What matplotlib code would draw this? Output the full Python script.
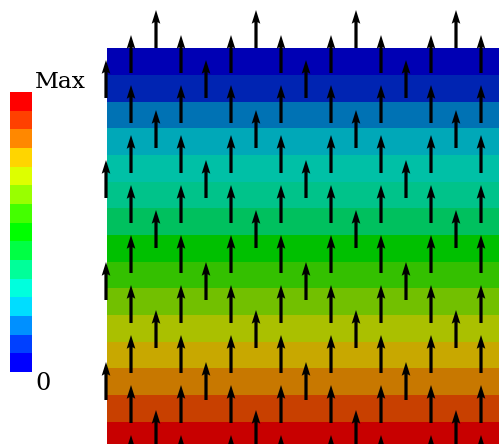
import matplotlib
matplotlib.use('Agg')
import matplotlib.pyplot as plt
import numpy as np

# legend levels, top (Max) to bottom (0)
legend_colors = ['#ff0000', '#ff4000', '#ff8800', '#ffd500', '#ddff00', '#99ff00', '#44ff00',
                 '#00ff00', '#00ff44', '#00ff99', '#00ffdd', '#00ddff', '#0090ff', '#0040ff', '#0000ff']
legend_labels = ['Max', '0']

# shaded field bands, top to bottom
field_colors = ['#0000b4', '#0024b2', '#0072b4', '#00a8b8', '#00c0a6', '#00c38a', '#00c05e',
                '#00c000', '#34c000', '#72c000', '#aac000', '#c8a800', '#c87800', '#c84000', '#c80000']

# arrow columns and tip rows (image px)
cols_a = [131, 181, 231, 281, 331, 381, 431, 481]
tips_a = [35, 85, 135, 185, 235, 285, 335, 385, 435]
cols_b = [106, 206, 306, 406]
tips_b = [60, 160, 262, 362]
cols_c = [156, 256, 356, 456]
tips_c = [10, 110, 210, 310, 410]
arrow_len = 38

fig = plt.figure(figsize=(4.99, 4.44), dpi=100)
fig.set_facecolor('w')
ax = fig.add_axes([0, 0, 1, 1])
ax.set_xlim(0, 499)
ax.set_ylim(444, 0)
ax.axis('off')

# field
band_h = 26.65
top = 48.5
nb = len(field_colors)
ax.barh(top + band_h*(np.arange(nb) + 0.5), 499 - 107, height=band_h, left=107,
        color=field_colors, linewidth=0)

# legend bar
cb_top, cb_bot = 92, 372
lh = (cb_bot - cb_top)/len(legend_colors)
ax.barh(cb_top + lh*(np.arange(len(legend_colors)) + 0.5), 22, height=lh, left=10,
        color=legend_colors, linewidth=0)
ax.text(35, 88, legend_labels[0], family='DejaVu Serif', fontsize=16.8, ha='left', va='baseline')
ax.text(35, 390, legend_labels[1], family='DejaVu Serif', fontsize=17.3, ha='left', va='baseline')

# arrows
xs, ys = [], []
for cols, tips in [(cols_a, tips_a), (cols_b, tips_b), (cols_c, tips_c)]:
    for c in cols:
        for t in tips:
            xs.append(c)
            ys.append(t + arrow_len)
xs = np.array(xs, float)
ys = np.array(ys, float)
ax.quiver(xs, ys, 0*xs, -arrow_len + 0*xs, angles='xy', scale_units='xy', scale=1,
          units='xy', width=3.2, headwidth=2.7, headlength=4.3, headaxislength=3.8,
          color='k', zorder=3)

fig.savefig('out.png', dpi=100)
